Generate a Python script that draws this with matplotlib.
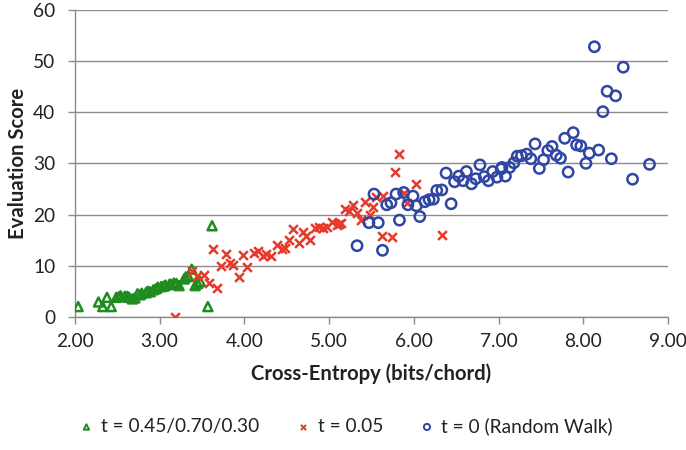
import numpy as np
import matplotlib
matplotlib.use("Agg")
import matplotlib.pyplot as plt

# t = 0.45/0.70/0.30 runs
green_x = [2.04, 2.28, 2.33, 2.38, 2.43, 2.49, 2.52, 2.54, 2.59, 2.62, 2.64, 2.68, 2.71,
           2.74, 2.77, 2.79, 2.84, 2.86, 2.89, 2.93, 2.96, 2.98, 3.02, 3.05, 3.07, 3.12,
           3.14, 3.17, 3.20, 3.23, 3.29, 3.31, 3.34, 3.38, 3.42, 3.45, 3.48, 3.57, 3.62]
green_y = [2.0, 2.9, 2.0, 3.8, 2.0, 3.8, 3.9, 4.1, 4.0, 4.0, 3.8, 3.5, 3.7,
           4.5, 4.3, 4.6, 4.7, 5.0, 4.9, 5.3, 5.5, 5.8, 5.9, 6.0, 6.2, 6.4,
           6.3, 6.6, 6.5, 6.1, 7.4, 7.8, 7.9, 9.3, 6.1, 6.5, 6.9, 2.0, 17.8]

# t = 0.05 runs
red_x = [3.18, 3.38, 3.44, 3.52, 3.58, 3.63, 3.68, 3.72, 3.78, 3.83, 3.87, 3.94, 3.98,
         4.03, 4.11, 4.16, 4.22, 4.26, 4.31, 4.38, 4.44, 4.48, 4.53, 4.58, 4.64, 4.69,
         4.73, 4.78, 4.83, 4.88, 4.93, 4.98, 5.04, 5.09, 5.12, 5.14, 5.19, 5.23, 5.28,
         5.33, 5.38, 5.42, 5.48, 5.52, 5.55, 5.63, 5.64, 5.74, 5.78, 5.83, 5.88, 5.92,
         6.03, 6.33]
red_y = [0.0, 9.0, 7.9, 8.2, 6.7, 13.3, 5.6, 10.0, 12.2, 10.6, 10.2, 7.8, 12.1,
         9.8, 12.4, 12.8, 11.8, 12.3, 11.9, 14.1, 13.2, 13.4, 15.0, 17.1, 14.5, 16.5,
         15.8, 15.0, 17.3, 17.6, 17.3, 17.5, 18.6, 18.0, 18.2, 18.3, 21.0, 20.7, 21.9,
         20.3, 18.9, 22.5, 19.9, 21.5, 23.4, 15.8, 23.6, 15.6, 28.3, 31.8, 24.3, 22.3,
         25.9, 15.9]

# t = 0 (random walk)
blue_x = [5.33, 5.47, 5.53, 5.58, 5.63, 5.68, 5.73, 5.79, 5.83, 5.88, 5.93, 5.99, 6.03,
          6.07, 6.13, 6.18, 6.23, 6.27, 6.33, 6.38, 6.44, 6.48, 6.53, 6.58, 6.62, 6.68,
          6.73, 6.78, 6.83, 6.88, 6.93, 6.98, 7.03, 7.04, 7.08, 7.13, 7.18, 7.22, 7.27,
          7.33, 7.38, 7.43, 7.48, 7.53, 7.58, 7.63, 7.68, 7.73, 7.78, 7.82, 7.88, 7.92,
          7.97, 8.03, 8.07, 8.13, 8.18, 8.23, 8.28, 8.33, 8.38, 8.47, 8.58, 8.78]
blue_y = [13.9, 18.4, 24.0, 18.4, 13.0, 21.9, 22.3, 24.0, 18.9, 24.3, 21.9, 23.6, 21.7,
          19.6, 22.5, 22.9, 23.0, 24.7, 24.8, 28.1, 22.1, 26.4, 27.5, 26.6, 28.4, 26.0,
          27.0, 29.7, 27.4, 26.6, 28.4, 27.3, 28.9, 29.2, 27.5, 29.2, 30.1, 31.4, 31.5,
          31.8, 30.9, 33.8, 29.0, 30.7, 32.5, 33.3, 31.6, 31.0, 34.9, 28.3, 36.0, 33.6,
          33.4, 30.0, 32.0, 52.8, 32.6, 40.1, 44.1, 30.9, 43.2, 48.8, 26.9, 29.8]

x_ticks = [2, 3, 4, 5, 6, 7, 8, 9]
y_ticks = [0, 10, 20, 30, 40, 50, 60]

plt.rcParams['font.family'] = ['Lato', 'DejaVu Sans']

fig = plt.figure(figsize=(6.86, 4.5), dpi=100)
ax = fig.add_axes([0.109, 0.296, 0.865, 0.682])

grid_col = "#8c8c8c"
ax.scatter(green_x, green_y, marker="^", s=42, facecolors="none",
           edgecolors="#1e8c1e", linewidths=1.8, label="t = 0.45/0.70/0.30", zorder=3)
ax.scatter(red_x, red_y, marker="x", s=40, color="#e53a2c",
           linewidths=1.8, label="t = 0.05", zorder=3)
ax.scatter(blue_x, blue_y, marker="o", s=55, facecolors="none",
           edgecolors="#2f46a3", linewidths=1.8, label="t = 0 (Random Walk)", zorder=3)

ax.set_xlim(2, 9)
ax.set_ylim(0, 60)
ax.set_xticks(x_ticks)
ax.set_xticklabels([f"{v:.2f}" for v in x_ticks])
ax.set_yticks(y_ticks)
ax.yaxis.grid(True, color=grid_col, linewidth=1.0)
ax.set_axisbelow(True)

for side in ["top", "right"]:
    ax.spines[side].set_visible(False)
for side in ["left", "bottom"]:
    ax.spines[side].set_color(grid_col)
    ax.spines[side].set_linewidth(1.0)
ax.tick_params(axis="both", colors=grid_col, labelcolor="#222222",
               labelsize=13.8, length=5, width=1.0)
ax.tick_params(axis="x", pad=7)
ax.tick_params(axis="y", pad=9)

ax.set_xlabel("Cross-Entropy (bits/chord)", fontsize=14.6, fontweight="bold",
              color="#222222", labelpad=9)
ax.set_ylabel("Evaluation Score", fontsize=14.6, fontweight="bold",
              color="#222222", labelpad=4)

leg = fig.legend(loc="lower center", bbox_to_anchor=(0.5, -0.005), ncol=3,
                 frameon=False, fontsize=13.8, markerscale=0.6,
                 handletextpad=0.05, columnspacing=1.6, handlelength=1.4)
for h in leg.legend_handles:
    h.set_linewidth(1.4)
for t in leg.get_texts():
    t.set_color("#222222")

fig.savefig("out.png", dpi=100)
